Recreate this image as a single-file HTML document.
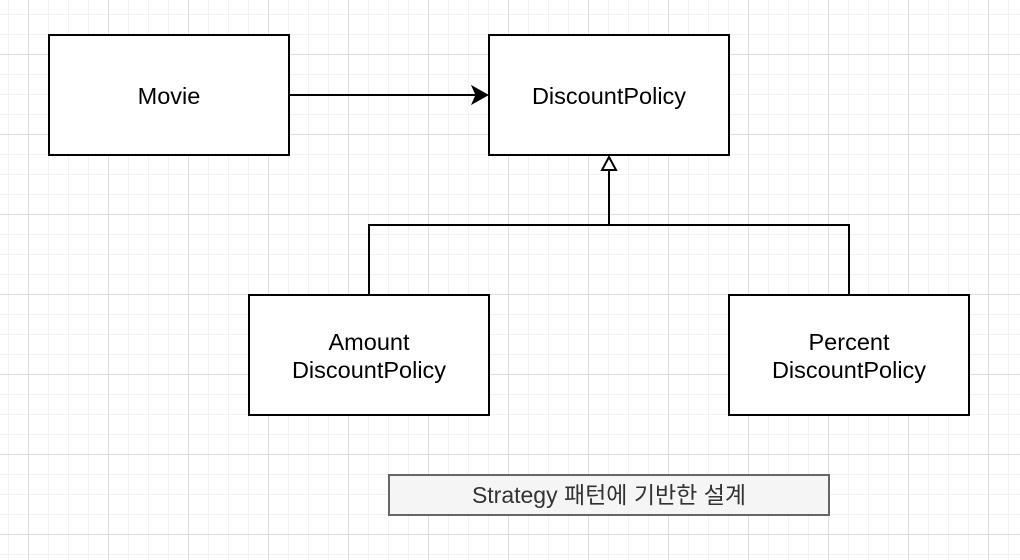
<!DOCTYPE html>
<html><head><meta charset="utf-8"><style>
html,body{margin:0;padding:0;}
body{width:1020px;height:560px;overflow:hidden;background:#fff;
background-image:
linear-gradient(to right,#dedede 1px,transparent 1px),
linear-gradient(to bottom,#dedede 1px,transparent 1px),
linear-gradient(to right,#f2f2f2 1px,transparent 1px),
linear-gradient(to bottom,#f2f2f2 1px,transparent 1px);
background-size:80px 80px,80px 80px,20px 20px,20px 20px;
background-position:28px 0,0 54px,8px 0,0 14px;}
svg{position:absolute;left:0;top:0;}
text{font-family:"Liberation Sans","Noto Sans CJK KR",sans-serif;font-size:23.5px;fill:#000;}
</style></head><body>
<svg width="1020" height="560" xmlns="http://www.w3.org/2000/svg">
<g fill="#fff" stroke="#000" stroke-width="2">
<rect x="49" y="35" width="240" height="120"/>
<rect x="489" y="35" width="240" height="120"/>
<rect x="249" y="295" width="240" height="120"/>
<rect x="729" y="295" width="240" height="120"/>
</g>
<rect x="389" y="475" width="440" height="40" fill="#f5f5f5" stroke="#666" stroke-width="2"/>
<g stroke="#000" stroke-width="2" fill="none">
<line x1="289" y1="95" x2="478" y2="95"/>
<polyline points="369,295 369,225 849,225 849,295"/>
<line x1="609" y1="225" x2="609" y2="170"/>
</g>
<polygon points="488,95 472,86 476,95 472,104" fill="#000" stroke="#000" stroke-width="1"/>
<polygon points="609,157 602,170 616,170" fill="#fff" stroke="#000" stroke-width="2"/>
<text x="169" y="104" text-anchor="middle">Movie</text>
<text x="609" y="104" text-anchor="middle">DiscountPolicy</text>
<text x="369" y="350" text-anchor="middle">Amount</text>
<text x="369" y="378" text-anchor="middle">DiscountPolicy</text>
<text x="849" y="350" text-anchor="middle">Percent</text>
<text x="849" y="378" text-anchor="middle">DiscountPolicy</text>
<text x="609" y="503" text-anchor="middle" style="font-size:23px;fill:#333">Strategy 패턴에 기반한 설계</text>
</svg>
</body></html>
